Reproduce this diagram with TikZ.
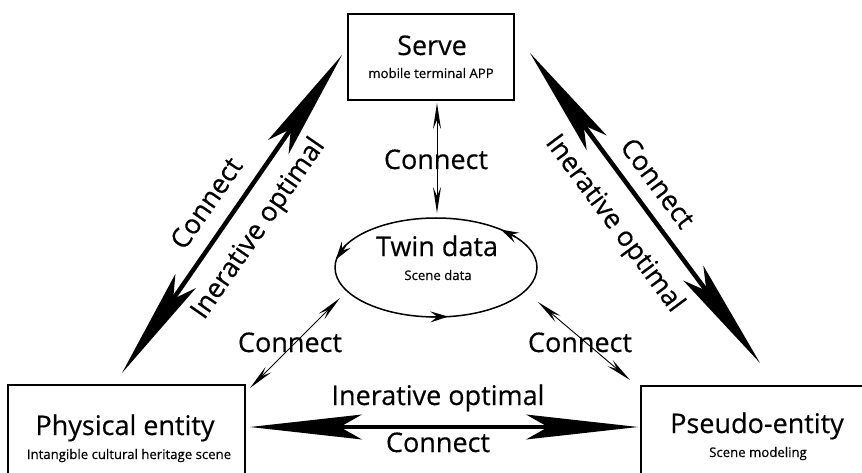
\documentclass[tikz,border=0pt]{standalone}
\usepackage{fontspec}
\setmainfont{Open Sans}[FakeBold=0.4]
\usetikzlibrary{arrows.meta,shapes.geometric}
\begin{document}
\begin{tikzpicture}[x=1pt,y=-1pt,
  box/.style={draw, line width=1.6pt, inner sep=0pt},
  bigtext/.style={font=\fontsize{27}{30}\selectfont, inner sep=0pt},
  smalltext/.style={font=\fontsize{13.2}{16}\selectfont, inner sep=0pt},
  bigarrow/.style={line width=4.5pt, {Stealth[length=112pt,width=25pt,inset=22pt,line width=0pt]}-{Stealth[length=112pt,width=25pt,inset=22pt,line width=0pt]}},
  thinarrow/.style={line width=0.9pt, {Stealth[length=26pt,width=8pt,inset=9pt,line width=0pt]}-{Stealth[length=26pt,width=8pt,inset=9pt,line width=0pt]}},
  cycarrow/.style={line width=1.5pt, -{Stealth[length=18pt,width=11pt,inset=7pt,line width=0pt]}}
]
\useasboundingbox (0,0) rectangle (862,473);
\clip (0,0) rectangle (862,473);

% boxes
\node[box, minimum width=166pt, minimum height=86pt] (serve) at (431,57) {};
\node[bigtext, anchor=base] (serveT) at (432,55) {Serve};
\node[smalltext, anchor=base] (serveS) at (431,78) {mobile terminal APP};

\node[box, minimum width=237pt, minimum height=110pt] (phys) at (126.5,440) {};
\node[bigtext, anchor=base] (physT) at (125,435) {Physical entity};
\node[smalltext, anchor=base] (physS) at (129,459) {Intangible cultural heritage scene};

\node[box, minimum width=240pt, minimum height=110pt] (pseudo) at (761,441) {};
\node[bigtext, anchor=base] (pseudoT) at (757,433) {Pseudo-entity};
\node[smalltext, anchor=base] (pseudoS) at (758,457) {Scene modeling};

% twin data ellipse
\node[draw, ellipse, line width=1.5pt, minimum width=202pt, minimum height=99pt, inner sep=0pt] (twin) at (436,267.5) {};
\node[bigtext, anchor=base] (twinT) at (437,256) {Twin data};
\node[smalltext, anchor=base] (twinS) at (438,280) {Scene data};

% cycle arrow heads on the ellipse
\coordinate (c1a) at (515.6,237.0); \coordinate (c1b) at (500.9,229.6);
\coordinate (c2a) at (345.5,245.75); \coordinate (c2b) at (336.0,259.5);
\coordinate (c3a) at (430.7,316.9); \coordinate (c3b) at (448.3,316.6);
\draw[cycarrow] (c1a) -- (c1b);
\draw[cycarrow] (c2a) -- (c2b);
\draw[cycarrow] (c3a) -- (c3b);

% big arrows
\coordinate (L1) at (122,373); \coordinate (L2) at (342,55);
\coordinate (R1) at (530,53);  \coordinate (R2) at (760,363);
\coordinate (B1) at (250,427); \coordinate (B2) at (638,427);
\draw[bigarrow] (L1) -- (L2);
\draw[bigarrow] (R1) -- (R2);
\draw[bigarrow] (B1) -- (B2);

\node[bigtext, rotate=55.3] (lc) at (206,203) {Connect};
\node[bigtext, rotate=55.3] (li) at (259,229) {Inerative optimal};
\node[bigtext, rotate=-53.4] (rc) at (658,183) {Connect};
\node[bigtext, rotate=-53.4] (ri) at (614,224) {Inerative optimal};
\node[bigtext, anchor=base] (bi) at (438,405) {Inerative optimal};
\node[bigtext, anchor=base] (bc) at (438,452) {Connect};

% thin arrows
\coordinate (V1) at (437,103); \coordinate (V2) at (437,213);
\coordinate (T1) at (250,388); \coordinate (T2) at (340,298);
\coordinate (U1) at (538,302); \coordinate (U2) at (630,380);
\draw[thinarrow] (V1) -- (V2);
\draw[thinarrow] (T1) -- (T2);
\draw[thinarrow] (U1) -- (U2);
\node[bigtext, anchor=base] (vc) at (436,169) {Connect};
\node[bigtext, anchor=base] (tc) at (290,352) {Connect};
\node[bigtext, anchor=base] (uc) at (580,352) {Connect};
\end{tikzpicture}
\end{document}
